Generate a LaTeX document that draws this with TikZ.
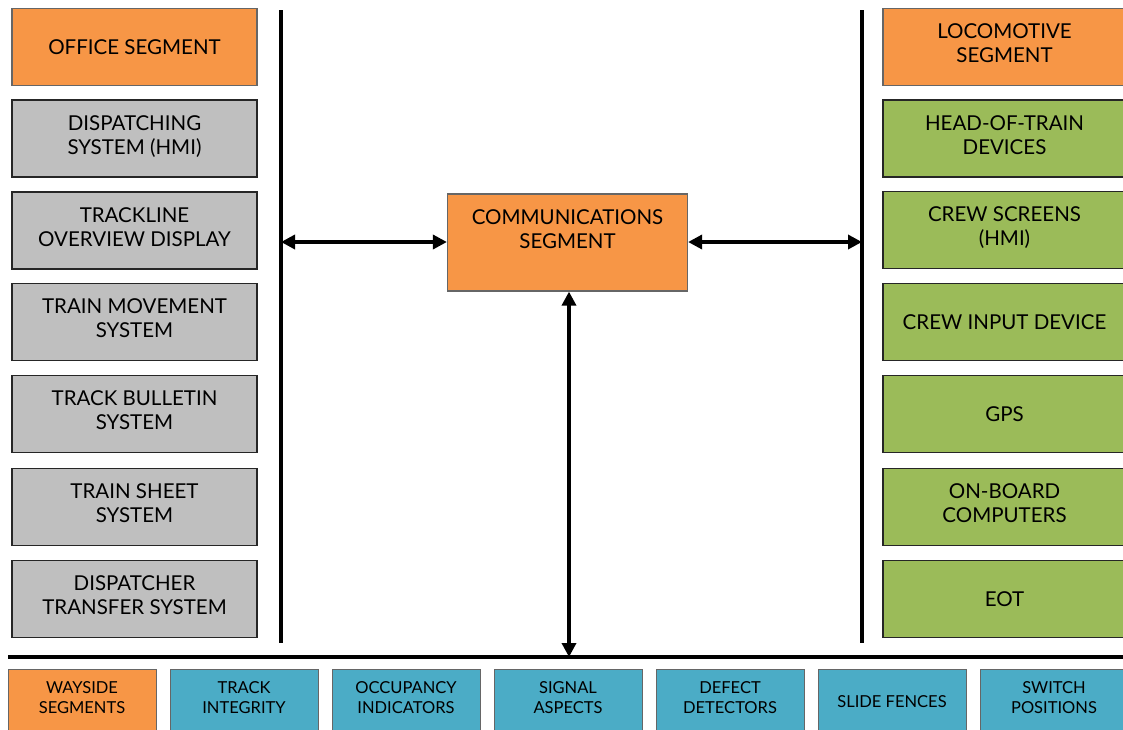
\documentclass[tikz,border=0pt]{standalone}
\usepackage{fontspec}
\setmainfont{Lato}
\usetikzlibrary{arrows.meta}
\definecolor{segorange}{RGB}{247,150,70}
\definecolor{offgray}{RGB}{191,191,191}
\definecolor{locogreen}{RGB}{155,187,89}
\definecolor{waysideblue}{RGB}{75,172,198}
% two centred lines; the optional depth moves the pair up inside its box
\newcommand{\twolines}[3][31.2pt]{\raisebox{0pt}[15pt][#1]{\parbox[t]{240pt}{\centering #2\\#3}}}
\newcommand{\twosmall}[2]{\raisebox{0pt}[12pt][28.2pt]{\parbox[t]{146pt}{\centering #1\\#2}}}
\tikzset{
  x=1pt, y=-1pt,
  box/.style={draw=black!85, line width=1.2pt, minimum width=245pt, minimum height=77pt,
    align=center, font=\fontsize{20.5}{24}\selectfont, inner sep=0pt},
  segbox/.style={box, fill=segorange, draw=black!60},
  officebox/.style={box, fill=offgray},
  locobox/.style={box, fill=locogreen, minimum width=243pt},
  waybox/.style={draw=black!60, line width=1pt, minimum width=148pt, minimum height=66pt,
    align=center, font=\fontsize{16.5}{20}\selectfont, inner sep=0pt, fill=waysideblue},
  bar/.style={line width=3.8pt},
  link/.style={line width=3.4pt, {Triangle[length=14pt,width=14pt]}-{Triangle[length=14pt,width=14pt]}},
}
\begin{document}
\begin{tikzpicture}
\useasboundingbox (0,0) rectangle (1123,729);
\fill[white] (0,0) rectangle (1123,729);
% office column
\node[segbox] (office) at (134.5,47) {OFFICE SEGMENT};
\node[officebox] (disp) at (134.5,138.5) {\twolines{DISPATCHING}{SYSTEM (HMI)}};
\node[officebox] (track) at (134.5,230.5) {\twolines{TRACKLINE}{OVERVIEW DISPLAY}};
\node[officebox] (move) at (134.5,322) {\twolines{TRAIN MOVEMENT}{SYSTEM}};
\node[officebox] (bull) at (134.5,414) {\twolines{TRACK BULLETIN}{SYSTEM}};
\node[officebox] (sheet) at (134.5,507) {\twolines{TRAIN SHEET}{SYSTEM}};
\node[officebox] (xfer) at (134.5,599) {\twolines{DISPATCHER}{TRANSFER SYSTEM}};
% locomotive column
\node[segbox, minimum width=243pt] (loco) at (1004.5,47) {\twolines[32.2pt]{LOCOMOTIVE}{SEGMENT}};
\node[locobox] (hot) at (1004.5,138.5) {\twolines{HEAD-OF-TRAIN}{DEVICES}};
\node[locobox] (screens) at (1004.5,230) {\twolines[32pt]{CREW SCREENS}{(HMI)}};
\node[locobox] (input) at (1004.5,322) {CREW INPUT DEVICE};
\node[locobox] (gps) at (1004.5,414) {GPS};
\node[locobox] (obc) at (1004.5,507) {\twolines[32pt]{ON-BOARD}{COMPUTERS}};
\node[locobox] (eot) at (1004.5,599) {EOT};
% communications
\node[segbox, minimum width=239pt, minimum height=97pt] (comm) at (567.5,242.5)
  {\twolines[51.2pt]{COMMUNICATIONS}{SEGMENT}};
% buses
\coordinate (lt) at (281,10); \coordinate (lb) at (281,643);
\coordinate (rt) at (862,10); \coordinate (rb) at (862,643);
\coordinate (bl) at (8,657); \coordinate (br) at (1123,657);
\draw[bar] (lt) -- (lb);
\draw[bar] (rt) -- (rb);
\draw[bar] (bl) -- (br);
\coordinate (la) at (281,242);
\coordinate (ra) at (862,242);
\coordinate (ba) at (569,657);
\draw[link] (la) -- (comm.west |- la);
\draw[link] (comm.east |- ra) -- (ra);
\draw[link] (comm.south -| ba) -- (ba);
% wayside row
\node[waybox, fill=segorange] (way) at (82,702) {\twosmall{WAYSIDE}{SEGMENTS}};
\node[waybox] (integ) at (244,702) {\twosmall{TRACK}{INTEGRITY}};
\node[waybox] (occ) at (406,702) {\twosmall{OCCUPANCY}{INDICATORS}};
\node[waybox] (sig) at (568,702) {\twosmall{SIGNAL}{ASPECTS}};
\node[waybox] (defect) at (730,702) {\twosmall{DEFECT}{DETECTORS}};
\node[waybox] (slide) at (892,702) {SLIDE FENCES};
\node[waybox] (switch) at (1054,702) {\twosmall{SWITCH}{POSITIONS}};
\end{tikzpicture}
\end{document}
